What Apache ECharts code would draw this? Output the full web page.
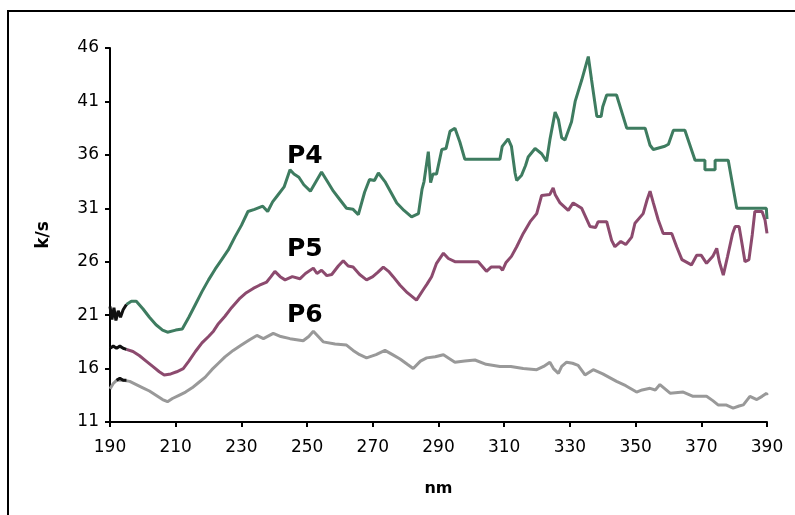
<!DOCTYPE html>
<html>
<head>
<meta charset="utf-8">
<title>k/s vs nm</title>
<script src="https://cdn.jsdelivr.net/npm/echarts@6/dist/echarts.min.js"></script>
<style>
  html, body { margin: 0; padding: 0; background: #fff; }
  #chart { width: 795px; height: 515px; }
</style>
</head>
<body>
<div id="chart"></div>
<script>
// axis ticks
const xTicks = [190, 210, 230, 250, 270, 290, 310, 330, 350, 370, 390]
const yTicks = [11, 16, 21, 26, 31, 36, 41, 46]

// P4 (green), [nm, k/s]
const p4 = [
  [195, 22.0], [196.5, 22.3], [198, 22.3], [200, 21.6], [202, 20.8], [204, 20.1], [206, 19.6],
  [207.5, 19.4], [210, 19.6], [212, 19.7], [214, 20.8], [216, 22.0], [218, 23.2], [220, 24.3],
  [222, 25.3], [224, 26.2], [226, 27.1], [228, 28.3], [230, 29.4], [232, 30.7], [234, 30.9],
  [236.5, 31.2], [238, 30.7], [239.5, 31.6], [241, 32.2], [243, 33.0], [244.8, 34.6], [246, 34.2],
  [247.5, 33.9], [249, 33.2], [251, 32.6], [252.5, 33.4], [254.4, 34.4], [256, 33.6], [258, 32.6],
  [260, 31.8], [262, 31.0], [264, 30.9], [265.6, 30.4], [267.5, 32.5], [269, 33.7], [270.5, 33.6],
  [271.7, 34.3], [273.7, 33.5], [275.5, 32.5], [277.3, 31.5], [279.5, 30.8], [281.8, 30.2],
  [283.9, 30.5], [285, 32.8], [285.6, 33.5], [286.9, 36.3], [287.6, 33.4], [288.3, 34.2],
  [289.4, 34.2], [291, 36.5], [292.3, 36.6], [293.5, 38.2], [295, 38.5], [296.5, 37.2], [298, 35.6],
  [308.7, 35.6], [309.4, 36.8], [311.2, 37.5], [312.2, 36.8], [313.3, 34.3], [313.8, 33.6],
  [315.3, 34.1], [316.5, 35.0], [317.3, 35.8], [319.4, 36.6], [321.4, 36.1], [322.9, 35.4],
  [323.9, 37.4], [325.5, 40.0], [326.5, 39.3], [327.5, 37.6], [328.5, 37.4], [330.5, 39.1],
  [331.6, 41.0], [333.6, 43.0], [335.6, 45.2], [336.6, 43.0], [338.2, 39.6], [339.5, 39.6],
  [340, 40.5], [341.2, 41.6], [344.2, 41.6], [347.3, 38.5], [352.9, 38.5], [354.4, 36.9],
  [355.4, 36.5], [358.9, 36.8], [360, 37.0], [361.5, 38.3], [365, 38.3], [368.1, 35.5],
  [371.1, 35.5], [371.1, 34.6], [374.2, 34.6], [374.2, 35.5], [378.2, 35.5], [380.8, 31.0],
  [389.8, 31.0], [390, 30.0]
]

// P5 (purple)
const p5 = [
  [195, 17.8], [197, 17.6], [199, 17.2], [201, 16.7], [203, 16.2], [205, 15.7], [206.5, 15.4],
  [208.5, 15.5], [210.3, 15.7], [212.3, 16.0], [214, 16.7], [216, 17.6], [218, 18.4], [220, 19.0],
  [221.5, 19.5], [223, 20.2], [225, 20.9], [227, 21.7], [229.6, 22.6], [231.5, 23.1], [233.6, 23.5],
  [235.5, 23.8], [237.7, 24.1], [239, 24.6], [240.2, 25.1], [241.8, 24.6], [243.3, 24.3],
  [245.5, 24.6], [247.8, 24.4], [249.5, 24.9], [251.9, 25.4], [253, 24.9], [254.4, 25.2],
  [256, 24.7], [257.5, 24.8], [259.5, 25.6], [261, 26.1], [262.5, 25.6], [264, 25.5], [266, 24.8],
  [268.1, 24.3], [270, 24.6], [271.5, 25.0], [273.2, 25.5], [274.8, 25.1], [276.2, 24.6],
  [278.3, 23.8], [280.5, 23.1], [283.3, 22.4], [285.4, 23.4], [286.5, 23.9], [287.9, 24.6],
  [289.4, 25.85], [291.5, 26.8], [293, 26.3], [295, 26.0], [302.1, 26.0], [304.6, 25.1],
  [306, 25.5], [308.7, 25.5], [309.5, 25.2], [310.5, 25.9], [312.2, 26.5], [313.8, 27.4],
  [315.8, 28.65], [317.9, 29.75], [319.9, 30.5], [321.4, 32.2], [323.9, 32.3], [324.9, 32.9],
  [325.5, 32.3], [327, 31.5], [329.5, 30.8], [331, 31.5], [333.6, 31.0], [336.1, 29.3],
  [337.8, 29.2], [338.6, 29.75], [341.2, 29.75], [342.7, 28.0], [343.7, 27.4], [345.5, 27.9],
  [347, 27.6], [348.8, 28.3], [349.8, 29.6], [352.3, 30.5], [353.5, 31.8], [354.4, 32.6],
  [355.4, 31.5], [356.9, 29.9], [358.4, 28.65], [361, 28.65], [362.5, 27.4], [364.1, 26.2],
  [367, 25.7], [368.6, 26.6], [370, 26.6], [371.6, 25.85], [373.5, 26.5], [374.7, 27.25],
  [375.5, 26.0], [376.7, 24.75], [378, 26.5], [379.5, 28.6], [380.3, 29.3], [381.5, 29.3],
  [382.5, 27.5], [383.3, 26.0], [384.5, 26.2], [385.5, 28.5], [386.3, 30.7], [388.5, 30.7],
  [389.4, 29.9], [390, 29.9], [390, 28.65]
]

// P6 (grey)
const p6 = [
  [190, 14.1], [191, 14.6], [192, 14.9], [194, 14.9], [196, 14.8], [198, 14.5], [200, 14.2],
  [202, 13.9], [204, 13.5], [206, 13.1], [207.5, 12.9], [209, 13.2], [211, 13.5], [213, 13.8],
  [215, 14.2], [217, 14.7], [219, 15.2], [221, 15.9], [223, 16.5], [225, 17.1], [227.5, 17.7],
  [230, 18.2], [232.5, 18.7], [234.7, 19.1], [236.7, 18.8], [239.7, 19.3], [242, 19.0],
  [244.8, 18.8], [248.8, 18.6], [250.5, 19.0], [251.9, 19.5], [254.9, 18.5], [258.5, 18.3],
  [262, 18.2], [264, 17.7], [266, 17.3], [268.1, 17.0], [271, 17.3], [273.7, 17.7], [276, 17.3],
  [278.3, 16.9], [280.5, 16.4], [282.3, 16.0], [284.5, 16.7], [286.4, 17.0], [289, 17.1],
  [291.5, 17.3], [293, 17.0], [295, 16.6], [298, 16.7], [301.1, 16.8], [304.5, 16.4],
  [308.7, 16.2], [312, 16.2], [315.8, 16.0], [319.9, 15.9], [322, 16.2], [323.9, 16.6],
  [325, 16.0], [326.5, 15.55], [327.5, 16.2], [329, 16.6], [330.8, 16.5], [332.5, 16.3],
  [334.6, 15.4], [337.1, 15.9], [340, 15.5], [344.2, 14.8], [347, 14.4], [350.3, 13.8],
  [352, 14.0], [354.4, 14.15], [356, 14.0], [357.4, 14.5], [360.5, 13.7], [364.5, 13.8],
  [367.5, 13.4], [371.6, 13.4], [373.5, 13.0], [375.1, 12.6], [377.5, 12.6], [379.7, 12.3],
  [381.5, 12.5], [382.8, 12.6], [384.8, 13.4], [386.9, 13.1], [388.5, 13.4], [389.9, 13.7],
  [390, 13.5]
]

// short black starts of each curve
const p4Start = [[190, 21.8], [190.6, 20.6], [191.2, 21.7], [191.8, 20.5], [192.5, 21.4], [193.2, 20.8], [194, 21.5], [195, 22.0]]
const p5Start = [[190, 17.9], [191, 18.1], [192, 17.9], [193, 18.1], [194, 17.9], [195, 17.8]]
const p6Start = [[192, 14.9], [193, 15.1], [194, 14.9], [195, 14.9]]

const seriesNames = ['P4', 'P5', 'P6']
const colors = ['#3e7c60', '#8c4a6e', '#999999']

const font = 'DejaVu Sans, Verdana, sans-serif'

const line = (name, data, color) => ({
  name: name,
  type: 'line',
  data: data,
  showSymbol: false,
  symbol: 'none',
  smooth: false,
  lineStyle: { color: color, width: 3 },
  z: 3
})

const chart = echarts.init(document.getElementById('chart'))

chart.setOption({
  animation: false,
  backgroundColor: '#fff',
  grid: { left: 110, right: 28, top: 48, bottom: 93 },
  xAxis: {
    type: 'value',
    min: xTicks[0],
    max: xTicks[xTicks.length - 1],
    interval: 20,
    name: 'nm',
    nameLocation: 'middle',
    nameGap: 59,
    nameTextStyle: { fontFamily: font, fontSize: 16, fontWeight: 'bold', color: '#000' },
    axisLine: { lineStyle: { color: '#000', width: 2 } },
    axisTick: { show: true, length: 5, lineStyle: { color: '#000', width: 2 } },
    axisLabel: { fontFamily: font, fontSize: 17, color: '#000', margin: 17 },
    splitLine: { show: false }
  },
  yAxis: {
    type: 'value',
    min: yTicks[0],
    max: yTicks[yTicks.length - 1],
    interval: 5,
    name: 'k/s',
    nameLocation: 'middle',
    nameRotate: 90,
    nameGap: 58,
    nameTextStyle: { fontFamily: font, fontSize: 17, fontWeight: 'bold', color: '#000' },
    axisLine: { show: true, lineStyle: { color: '#000', width: 2 } },
    axisTick: { show: true, length: 5, lineStyle: { color: '#000', width: 2 } },
    axisLabel: { fontFamily: font, fontSize: 17, color: '#000', margin: 11 },
    splitLine: { show: false }
  },
  series: [
    line(seriesNames[0], p4, colors[0]),
    line(seriesNames[1], p5, colors[1]),
    line(seriesNames[2], p6, colors[2]),
    line('P4 start', p4Start, '#111'),
    line('P5 start', p5Start, '#111'),
    line('P6 start', p6Start, '#111')
  ],
  graphic: [
    {
      type: 'rect',
      shape: { x: 8, y: 11, width: 820, height: 540 },
      style: { fill: null, stroke: '#000', lineWidth: 2 },
      silent: true
    },
    {
      type: 'text', left: 287, top: 144,
      style: { text: seriesNames[0], font: 'bold 25px ' + font, fill: '#000' }
    },
    {
      type: 'text', left: 287, top: 237,
      style: { text: seriesNames[1], font: 'bold 25px ' + font, fill: '#000' }
    },
    {
      type: 'text', left: 287, top: 303,
      style: { text: seriesNames[2], font: 'bold 25px ' + font, fill: '#000' }
    }
  ]
})
</script>
</body>
</html>
